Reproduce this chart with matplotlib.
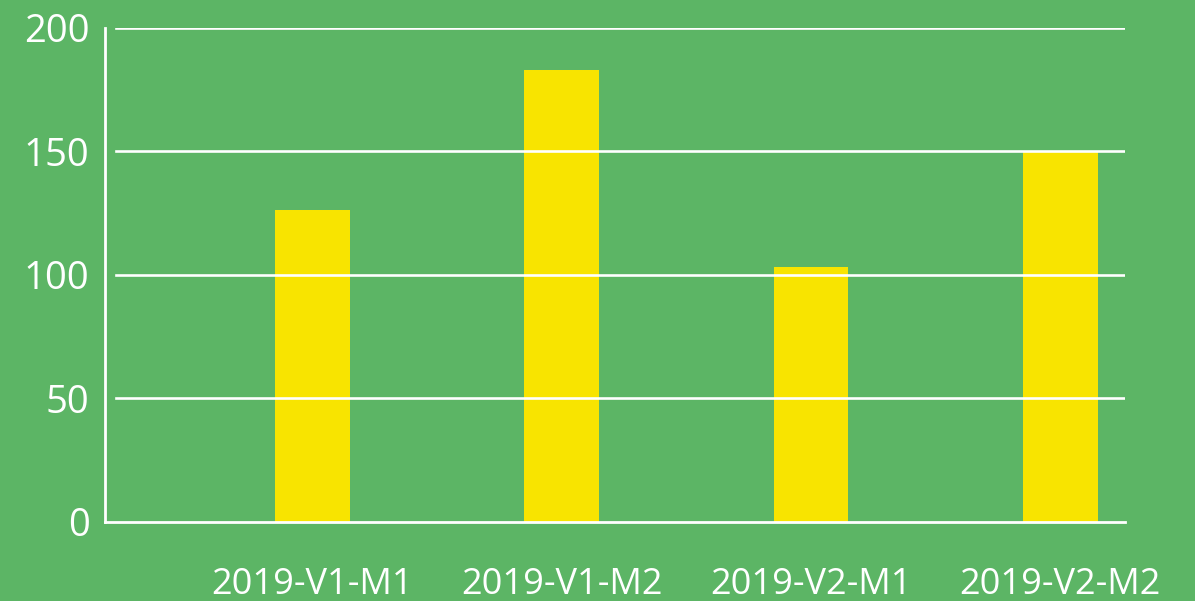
import matplotlib.pyplot as plt

categories = ["2019-V1-M1", "2019-V1-M2", "2019-V2-M1", "2019-V2-M2"]
values = [126, 183, 103, 149.5]
y_ticks = [0, 50, 100, 150, 200]

green = "#5cb565"
yellow = "#f8e400"

plt.rcParams['font.family'] = ['Open Sans', 'DejaVu Sans']

fig = plt.figure(figsize=(11.95, 6.01), dpi=100, facecolor=green)
ax = fig.add_axes([105 / 1195, (601 - 521.5) / 601, 1020 / 1195, (521.5 - 27.7) / 601])
ax.set_facecolor(green)

x = list(range(len(categories)))
ax.bar(x, values, width=0.3, color=yellow, zorder=2)

ax.set_xlim(-0.832, 3.26)
ax.set_ylim(0, 200)

# gridlines start a little right of the y axis and sit on top of the bars
for t in y_ticks[1:]:
    ax.axhline(t, xmin=11 / 1020, xmax=1, color="white", lw=1.9, zorder=3)

ax.set_yticks(y_ticks)
ax.set_xticks(x)
ax.set_xticklabels(categories)
ax.tick_params(axis="y", length=0, pad=11, labelsize=27.5, labelcolor="white")
ax.tick_params(axis="x", length=0, pad=33, labelsize=26, labelcolor="white")

for s in ["top", "right"]:
    ax.spines[s].set_visible(False)
for s in ["left", "bottom"]:
    ax.spines[s].set_color("white")
    ax.spines[s].set_linewidth(2)
    ax.spines[s].set_zorder(4)

fig.savefig("out.png", dpi=100, facecolor=green)
